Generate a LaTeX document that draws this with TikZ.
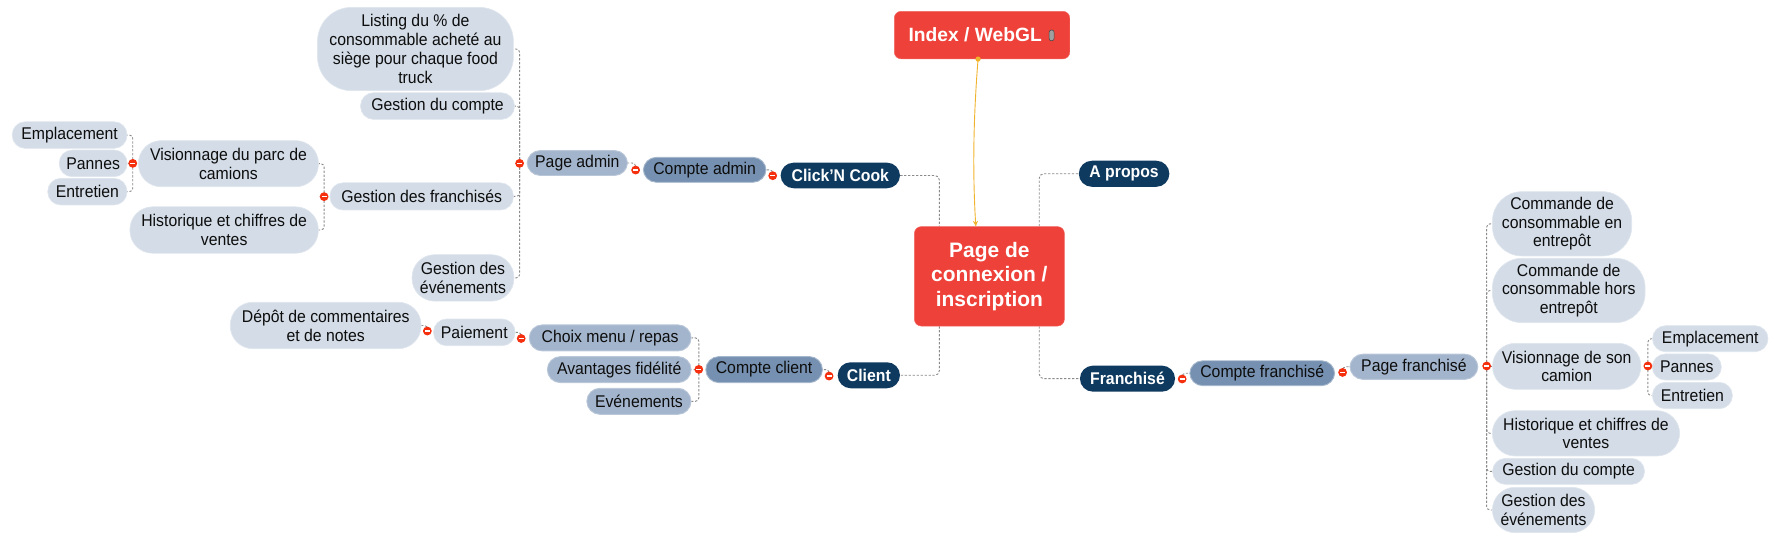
\documentclass[tikz,border=0pt]{standalone}
\usepackage{fontspec}
\setmainfont{Liberation Sans}[FakeStretch=0.93]
\newfontfamily\widefont{Liberation Sans}
\usetikzlibrary{arrows.meta,backgrounds}
\definecolor{redc}{HTML}{EE4139}
\definecolor{navyc}{HTML}{0F3A5F}
\definecolor{cptc}{HTML}{7590B0}
\definecolor{midc}{HTML}{A3B5CC}
\definecolor{leafc}{HTML}{D3DCE7}
\definecolor{dotc}{HTML}{F5300F}
\definecolor{connc}{HTML}{8A8A8A}
\definecolor{goldc}{HTML}{F0B32D}
\definecolor{txtc}{HTML}{0D0D0D}
\tikzset{
  base/.style={inner sep=0pt, align=center, text=txtc, font=\fontsize{15}{16.6}\selectfont, rounded corners=11.5pt},
  leaf/.style={base, fill=leafc, draw=leafc!70!white, line width=0.6pt},
  mid/.style={base, fill=midc, draw=midc!75!white, line width=0.8pt},
  cpt/.style={base, fill=cptc, draw=cptc!65!white, line width=0.8pt},
  dark/.style={base, fill=navyc, text=white, font=\fontsize{15}{16.6}\selectfont\bfseries},
  redbox/.style={fill=redc, draw=redc!80!white, rounded corners=6pt, inner sep=0pt},
  conn/.style={draw=connc, line width=0.8pt, dash pattern=on 2pt off 1.5pt, rounded corners=3pt},
  conn2/.style={draw=connc, line width=0.8pt, dash pattern=on 2pt off 1.5pt, rounded corners=4pt},
}
\begin{document}
\begin{tikzpicture}[x=1pt,y=-1pt]
\useasboundingbox (0,0) rectangle (1568,474);
% ---------- central ----------
\node[redbox, minimum width=155, minimum height=42] (idx) at (867.5,31) {};
\node[inner sep=0pt, text=white, font=\widefont\fontsize{17}{20}\selectfont\bfseries] (idxt) at (861.5,31) {Index / WebGL};
\draw[draw=gray!55!black, fill=gray!75, line width=0.5pt, rounded corners=2pt] (926.8,26.5) rectangle (931.2,36);
\node[redbox, minimum width=132.5, minimum height=87.8, align=center, text=white,
      font=\widefont\fontsize{18.5}{21.5}\selectfont\bfseries] (main) at (874,244.1) {Page de\\connexion /\\inscription};
\draw[goldc, line width=0.8pt, -{Stealth[length=5pt,width=4.5pt]}] ([xshift=-3.5pt]idx.south) .. controls +(-4,50) and +(-3,-50) .. ([xshift=-12pt]main.north);
\fill[goldc] ([xshift=-3.5pt]idx.south) circle (2.3pt);
% ---------- level 1 ----------
\node[dark, minimum width=105.5, minimum height=22.6] (cnc) at (742.3,155) {Click{\char"27}N Cook};
\node[dark, minimum width=80, minimum height=23] (apropos) at (993,153.5) {A propos};
\node[dark, minimum width=55, minimum height=23] (client) at (767.5,331.5) {Client};
\node[dark, minimum width=84, minimum height=23] (franch) at (996,334.5) {Franchisé};
% ---------- level 2 ----------
\node[cpt, minimum width=108.4, minimum height=22] (cadmin) at (622.5,150) {Compte admin};
\node[cpt, minimum width=103, minimum height=23] (cclient) at (675,326.5) {Compte client};
\node[cpt, minimum width=128, minimum height=22] (cfranch) at (1115,329.7) {Compte franchisé};
% ---------- level 3 ----------
\node[mid, minimum width=88.7, minimum height=22] (padmin) at (510,144) {Page admin};
\node[mid, minimum width=113, minimum height=22.3] (pfranch) at (1249,324) {Page franchisé};
\node[mid, minimum width=143, minimum height=23] (choix) at (539,298.5) {Choix menu / repas};
\node[mid, minimum width=127, minimum height=23] (avant) at (547,326.5) {Avantages fidélité};
\node[mid, minimum width=92, minimum height=23] (evt) at (564.4,354.5) {Evénements};
% ---------- admin leaves ----------
\node[leaf, minimum width=173, minimum height=73.5, rounded corners=30pt] (listing) at (367,43.3) {Listing du \% de\\consommable acheté au\\siège pour chaque food\\truck};
\node[leaf, minimum width=136, minimum height=23.5] (gcompte) at (386.5,93.7) {Gestion du compte};
\node[leaf, minimum width=162, minimum height=24] (gfranch) at (372.5,173.5) {Gestion des franchisés};
\node[leaf, minimum width=90, minimum height=41, rounded corners=20pt] (gevt) at (409,245.5) {Gestion des\\événements};
\node[leaf, minimum width=159, minimum height=40.7, rounded corners=20pt] (vparc) at (201.8,144.6) {Visionnage du parc de\\camions};
\node[leaf, minimum width=166.4, minimum height=41, rounded corners=20pt] (hist) at (198,203.2) {Historique et chiffres de\\ventes};
\node[leaf, minimum width=101.4, minimum height=23.5] (empl) at (61.5,119.3) {Emplacement};
\node[leaf, minimum width=60, minimum height=23.5] (pannes) at (82.3,144.3) {Pannes};
\node[leaf, minimum width=70, minimum height=23.5] (entretien) at (77.2,169.3) {Entretien};
% ---------- client leaves ----------
\node[leaf, minimum width=72, minimum height=23.6] (paiement) at (419,293.6) {Paiement};
\node[leaf, minimum width=168.5, minimum height=41, rounded corners=20pt] (depot) at (287.7,287.5) {Dépôt de commentaires\\et de notes};
% ---------- franchise leaves ----------
\node[leaf, minimum width=123, minimum height=56.8, rounded corners=26pt] (cmd1) at (1379.9,197.7) {Commande de\\consommable en\\entrepôt};
\node[leaf, minimum width=134.8, minimum height=56.8, rounded corners=26pt] (cmd2) at (1385.8,256.6) {Commande de\\consommable hors\\entrepôt};
\node[leaf, minimum width=131, minimum height=40.6, rounded corners=20pt] (vson) at (1384,323.6) {Visionnage de son\\camion};
\node[leaf, minimum width=165.4, minimum height=40, rounded corners=20pt] (hist2) at (1401,382.8) {Historique et chiffres de\\ventes};
\node[leaf, minimum width=134.3, minimum height=23] (gcompte2) at (1385.6,416.4) {Gestion du compte};
\node[leaf, minimum width=90.3, minimum height=40, rounded corners=20pt] (gevt2) at (1363.5,450.5) {Gestion des\\événements};
\node[leaf, minimum width=102, minimum height=23] (empl2) at (1510.8,299.2) {Emplacement};
\node[leaf, minimum width=61, minimum height=23] (pannes2) at (1490.1,324.2) {Pannes};
\node[leaf, minimum width=70.7, minimum height=23.3] (entretien2) at (1495,349.4) {Entretien};
% ---------- collapse dots ----------
\coordinate (dPadmin) at (459,144.3);
\coordinate (dGfranch) at (286.3,173.7);
\coordinate (dVparc) at (117.3,144.3);
\coordinate (dCadmin) at (561.5,150.2);
\coordinate (dCnc) at (682.6,155.2);
\coordinate (dClient) at (732.4,332.2);
\coordinate (dCclient) at (617.3,326.3);
\coordinate (dChoix) at (460.4,299);
\coordinate (dPaiement) at (377.5,292.4);
\coordinate (dFranch) at (1044.3,334.8);
\coordinate (dCfranch) at (1186,329);
\coordinate (dPfranch) at (1313.3,323.3);
\coordinate (dVson) at (1455.7,323.3);
% ---------- connectors ----------
\begin{scope}[on background layer]
\draw[conn2] (cnc.east) -| ([xshift=-44.2pt]main.north);
\draw[conn2] ([xshift=44pt]main.north) |- (apropos.west);
\draw[conn2] ([xshift=-44.2pt]main.south) |- (client.east);
\draw[conn2] ([xshift=44pt]main.south) |- (franch.west);
\foreach \c in {listing,gcompte,gfranch,gevt} \draw[conn] (dPadmin) |- (\c.east);
\foreach \c in {vparc,hist} \draw[conn] (dGfranch) |- (\c.east);
\foreach \c in {empl,pannes,entretien} \draw[conn] (dVparc) |- (\c.east);
\draw[conn] (dCadmin) |- (padmin.east);
\draw[conn] (dCnc) |- (cadmin.east);
\draw[conn] (dClient) |- (cclient.east);
\foreach \c in {choix,avant,evt} \draw[conn] (dCclient) |- (\c.east);
\draw[conn] (dChoix) |- (paiement.east);
\draw[conn] (dPaiement) |- (depot.east);
\draw[conn] (dFranch) |- (cfranch.west);
\draw[conn] (dCfranch) |- (pfranch.west);
\foreach \c in {cmd1,cmd2,vson,hist2,gcompte2,gevt2} \draw[conn] (dPfranch) |- (\c.west);
\foreach \c in {empl2,pannes2,entretien2} \draw[conn] (dVson) |- (\c.west);
\end{scope}
\foreach \d in {dPadmin,dGfranch,dVparc,dCadmin,dCnc,dClient,dCclient,dChoix,dPaiement,dFranch,dCfranch,dPfranch,dVson}{
  \fill[dotc] (\d) circle (3.9pt);
  \draw[white, line width=1.3pt] ([xshift=-2.2pt]\d) -- ([xshift=2.2pt]\d);
}
\end{tikzpicture}
\end{document}
